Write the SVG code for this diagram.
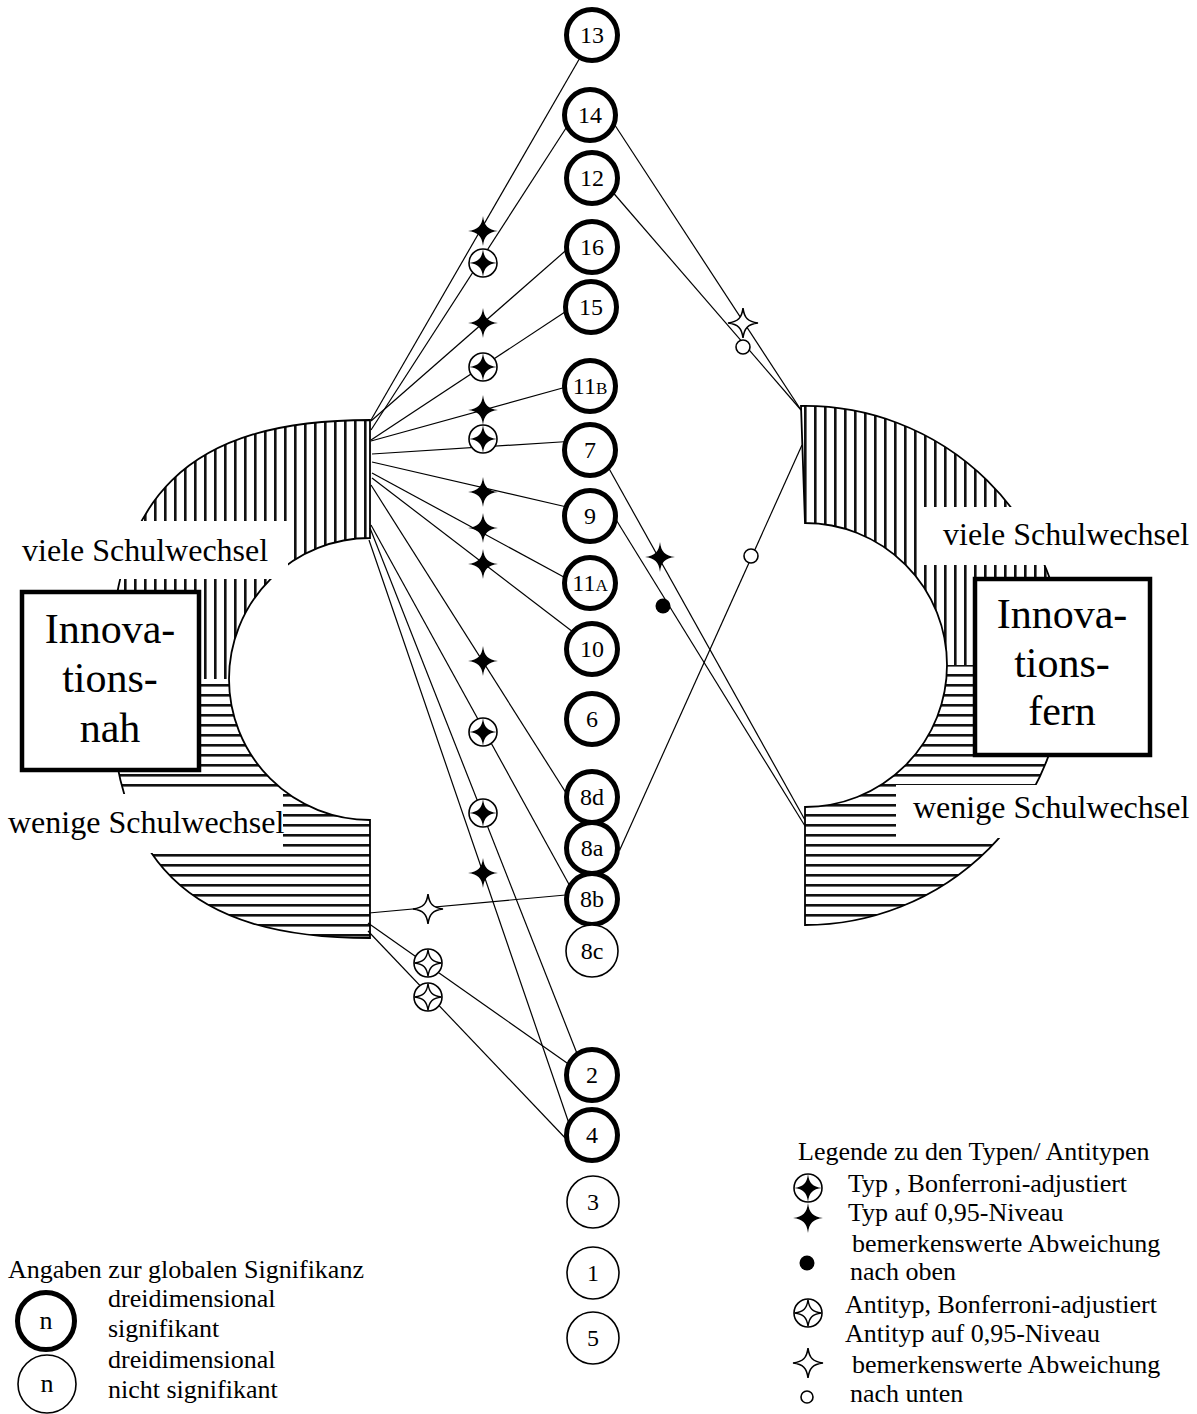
<svg xmlns="http://www.w3.org/2000/svg" width="1197" height="1414" viewBox="0 0 1197 1414">
<style>
text{font-family:"Liberation Serif","Times New Roman",serif;fill:#000}
.lbl{font-size:32px}
.box{font-size:42px;text-anchor:middle}
.nt{font-size:24px;text-anchor:middle}
.lg{font-size:26px}
.node{fill:#fff;stroke:#000}
.sig{stroke-width:5}
.ns{stroke-width:1.6}
.con line{stroke:#000;stroke-width:1.2}
.outl{fill:none;stroke:#000;stroke-width:1.8}
.white{fill:#fff}
.frame{fill:#fff;stroke:#000;stroke-width:4.5}
</style>
<defs>
<pattern id="vh" patternUnits="userSpaceOnUse" width="10" height="10"><rect width="10" height="10" fill="#fff"/><rect x="4" width="2.6" height="10" fill="#111"/></pattern>
<pattern id="hh" patternUnits="userSpaceOnUse" width="10" height="10"><rect width="10" height="10" fill="#fff"/><rect y="4" width="10" height="2.6" fill="#111"/></pattern>
<path id="star" d="M0,-15 C1.2,-5 5,-1.2 15,0 C5,1.2 1.2,5 0,15 C-1.2,5 -5,1.2 -15,0 C-5,-1.2 -1.2,-5 0,-15Z"/>
<g id="tS"><use href="#star" fill="#000"/></g>
<g id="tB"><circle r="14" fill="#fff" stroke="#000" stroke-width="1.6"/><use href="#star" fill="#000" transform="scale(0.93)"/></g>
<g id="aS"><use href="#star" fill="#fff" stroke="#000" stroke-width="1.6"/></g>
<g id="aB"><circle r="14" fill="#fff" stroke="#000" stroke-width="1.6"/><use href="#star" fill="#fff" stroke="#000" stroke-width="1.6" transform="scale(0.9)"/></g>
<g id="up"><circle r="7.5" fill="#000"/></g>
<g id="dn"><circle r="7" fill="#fff" stroke="#000" stroke-width="1.6"/></g>
</defs>

<g id="left-shape">
<path d="M370,420 C189,420 110,494 110,679 L229,679 A141,141 0 0 1 370,538 Z" fill="url(#vh)"/>
<path d="M110,679 C110,864 189,938 370,938 L370,820 A141,141 0 0 1 229,679 Z" fill="url(#hh)"/>
<path class="outl" d="M370,420 C189,420 110,494 110,679 C110,864 189,938 370,938 L370,820 A141,141 0 0 1 229,679 A141,141 0 0 1 370,538 Z"/>
</g>
<g id="right-shape">
<path d="M801,406 A260,260 0 0 1 1065,665 L947,665 A142,142 0 0 0 805,523 Z" fill="url(#vh)"/>
<path d="M1065,665 A260,260 0 0 1 805,925 L805,807 A142,142 0 0 0 947,665 Z" fill="url(#hh)"/>
<path class="outl" d="M801,406 A260,260 0 0 1 1065,665 A260,260 0 0 1 805,925 L805,807 A142,142 0 0 0 947,665 A142,142 0 0 0 805,523 Z"/>
</g>

<g id="labels">
<rect class="white" x="0" y="521" width="288" height="58"/>
<text class="lbl" x="22" y="561">viele Schulwechsel</text>
<rect class="white" x="0" y="794" width="283" height="59"/>
<text class="lbl" x="8" y="833">wenige Schulwechsel</text>
<rect class="white" x="923" y="507" width="274" height="58"/>
<text class="lbl" x="943" y="545">viele Schulwechsel</text>
<rect class="white" x="896" y="785" width="301" height="53"/>
<text class="lbl" x="913" y="818">wenige Schulwechsel</text>
</g>

<g id="box-nah">
<rect class="frame" x="22" y="592" width="177" height="178"/>
<text class="box" x="110" y="643">Innova-</text>
<text class="box" x="110" y="692">tions-</text>
<text class="box" x="110" y="742">nah</text>
</g>
<g id="box-fern">
<rect class="frame" x="975" y="579" width="175" height="176"/>
<text class="box" x="1062" y="628">Innova-</text>
<text class="box" x="1062" y="677">tions-</text>
<text class="box" x="1062" y="725">fern</text>
</g>

<g id="connectors" class="con">
<line x1="371" y1="420" x2="581" y2="56"/>
<line x1="371" y1="430" x2="568" y2="125"/>
<line x1="371" y1="421" x2="567.5" y2="249"/>
<line x1="371" y1="440" x2="568" y2="310"/>
<line x1="371" y1="441" x2="568" y2="386.5"/>
<line x1="372" y1="454" x2="568" y2="441.5"/>
<line x1="372" y1="462" x2="569" y2="507.5"/>
<line x1="372" y1="473" x2="567.5" y2="579"/>
<line x1="372" y1="478" x2="575" y2="633.5"/>
<line x1="371" y1="485" x2="568" y2="796"/>
<line x1="371" y1="525" x2="571" y2="888"/>
<line x1="370" y1="528" x2="577" y2="1053.5"/>
<line x1="369" y1="540" x2="569" y2="1123.5"/>
<line x1="369" y1="913" x2="571" y2="894.5"/>
<line x1="368" y1="923" x2="572" y2="1066.5"/>
<line x1="368" y1="931" x2="569" y2="1142"/>
<line x1="613.5" y1="123" x2="801" y2="410"/>
<line x1="613" y1="192.5" x2="801" y2="410"/>
<line x1="619.5" y1="850.5" x2="802" y2="445"/>
<line x1="607" y1="465" x2="805" y2="820"/>
<line x1="615" y1="518" x2="805" y2="826"/>
</g>

<g id="markers">
<use href="#tS" x="483" y="231"/>
<use href="#tB" x="483" y="263"/>
<use href="#tS" x="483" y="323"/>
<use href="#tB" x="483" y="367"/>
<use href="#tS" x="483" y="410"/>
<use href="#tB" x="483" y="439"/>
<use href="#tS" x="483" y="492"/>
<use href="#tS" x="483" y="528"/>
<use href="#tS" x="483" y="564"/>
<use href="#tS" x="483" y="661"/>
<use href="#tB" x="483" y="732"/>
<use href="#tB" x="483" y="813"/>
<use href="#tS" x="483" y="873"/>
<use href="#aS" x="428" y="909"/>
<use href="#aB" x="428" y="963"/>
<use href="#aB" x="428" y="997"/>
<use href="#aS" x="743" y="323"/>
<use href="#dn" x="743" y="347"/>
<use href="#dn" x="751" y="556"/>
<use href="#tS" x="660" y="557"/>
<use href="#up" x="663" y="606"/>
</g>

<g id="n13"><circle class="node sig" cx="592" cy="35" r="25.5"/><text class="nt" x="592" y="43">13</text></g>
<g id="n14"><circle class="node sig" cx="590" cy="115" r="25.5"/><text class="nt" x="590" y="123">14</text></g>
<g id="n12"><circle class="node sig" cx="592" cy="178" r="25.5"/><text class="nt" x="592" y="186">12</text></g>
<g id="n16"><circle class="node sig" cx="592" cy="247" r="25.5"/><text class="nt" x="592" y="255">16</text></g>
<g id="n15"><circle class="node sig" cx="591" cy="307" r="25.5"/><text class="nt" x="591" y="315">15</text></g>
<g id="n11B"><circle class="node sig" cx="590" cy="386" r="25.5"/><text class="nt" x="590" y="394">11<tspan font-size="17">B</tspan></text></g>
<g id="n7"><circle class="node sig" cx="590" cy="450" r="25.5"/><text class="nt" x="590" y="458">7</text></g>
<g id="n9"><circle class="node sig" cx="590" cy="516" r="25.5"/><text class="nt" x="590" y="524">9</text></g>
<g id="n11A"><circle class="node sig" cx="590" cy="583" r="25.5"/><text class="nt" x="590" y="591">11<tspan font-size="17">A</tspan></text></g>
<g id="n10"><circle class="node sig" cx="592" cy="649" r="25.5"/><text class="nt" x="592" y="657">10</text></g>
<g id="n6"><circle class="node sig" cx="592" cy="719" r="25.5"/><text class="nt" x="592" y="727">6</text></g>
<g id="n8d"><circle class="node sig" cx="592" cy="797" r="25.5"/><text class="nt" x="592" y="805">8d</text></g>
<g id="n8a"><circle class="node sig" cx="592" cy="848" r="25.5"/><text class="nt" x="592" y="856">8a</text></g>
<g id="n8b"><circle class="node sig" cx="592" cy="899" r="25.5"/><text class="nt" x="592" y="907">8b</text></g>
<g id="n8c"><circle class="node ns" cx="592" cy="951" r="26"/><text class="nt" x="592" y="959">8c</text></g>
<g id="n2"><circle class="node sig" cx="592" cy="1075" r="25.5"/><text class="nt" x="592" y="1083">2</text></g>
<g id="n4"><circle class="node sig" cx="592" cy="1135" r="25.5"/><text class="nt" x="592" y="1143">4</text></g>
<g id="n3"><circle class="node ns" cx="593" cy="1202" r="26"/><text class="nt" x="593" y="1210">3</text></g>
<g id="n1"><circle class="node ns" cx="593" cy="1273" r="26"/><text class="nt" x="593" y="1281">1</text></g>
<g id="n5"><circle class="node ns" cx="593" cy="1338" r="26"/><text class="nt" x="593" y="1346">5</text></g>

<g id="legend-types">
<text class="lg" x="798" y="1160">Legende zu den Typen/ Antitypen</text>
<use href="#tB" x="808" y="1188"/>
<text class="lg" x="848" y="1192">Typ , Bonferroni-adjustiert</text>
<use href="#tS" x="808" y="1218"/>
<text class="lg" x="848" y="1221">Typ auf 0,95-Niveau</text>
<text class="lg" x="852" y="1252">bemerkenswerte Abweichung</text>
<use href="#up" x="807" y="1263"/>
<text class="lg" x="850" y="1280">nach oben</text>
<use href="#aB" x="808" y="1313"/>
<text class="lg" x="845" y="1313">Antityp, Bonferroni-adjustiert</text>
<text class="lg" x="845" y="1342">Antityp auf 0,95-Niveau</text>
<use href="#aS" x="808" y="1363"/>
<text class="lg" x="852" y="1373">bemerkenswerte Abweichung</text>
<circle cx="807" cy="1397" r="6" fill="#fff" stroke="#000" stroke-width="1.6"/>
<text class="lg" x="850" y="1402">nach unten</text>
</g>

<g id="legend-significance">
<text class="lg" x="8" y="1278">Angaben zur globalen Signifikanz</text>
<circle class="node sig" cx="46" cy="1321" r="28.5"/>
<text class="lg" x="46" y="1329" text-anchor="middle">n</text>
<circle class="node ns" cx="47" cy="1384" r="29"/>
<text class="lg" x="47" y="1392" text-anchor="middle">n</text>
<text class="lg" x="108" y="1307">dreidimensional</text>
<text class="lg" x="108" y="1337">signifikant</text>
<text class="lg" x="108" y="1368">dreidimensional</text>
<text class="lg" x="108" y="1398">nicht signifikant</text>
</g>
</svg>
